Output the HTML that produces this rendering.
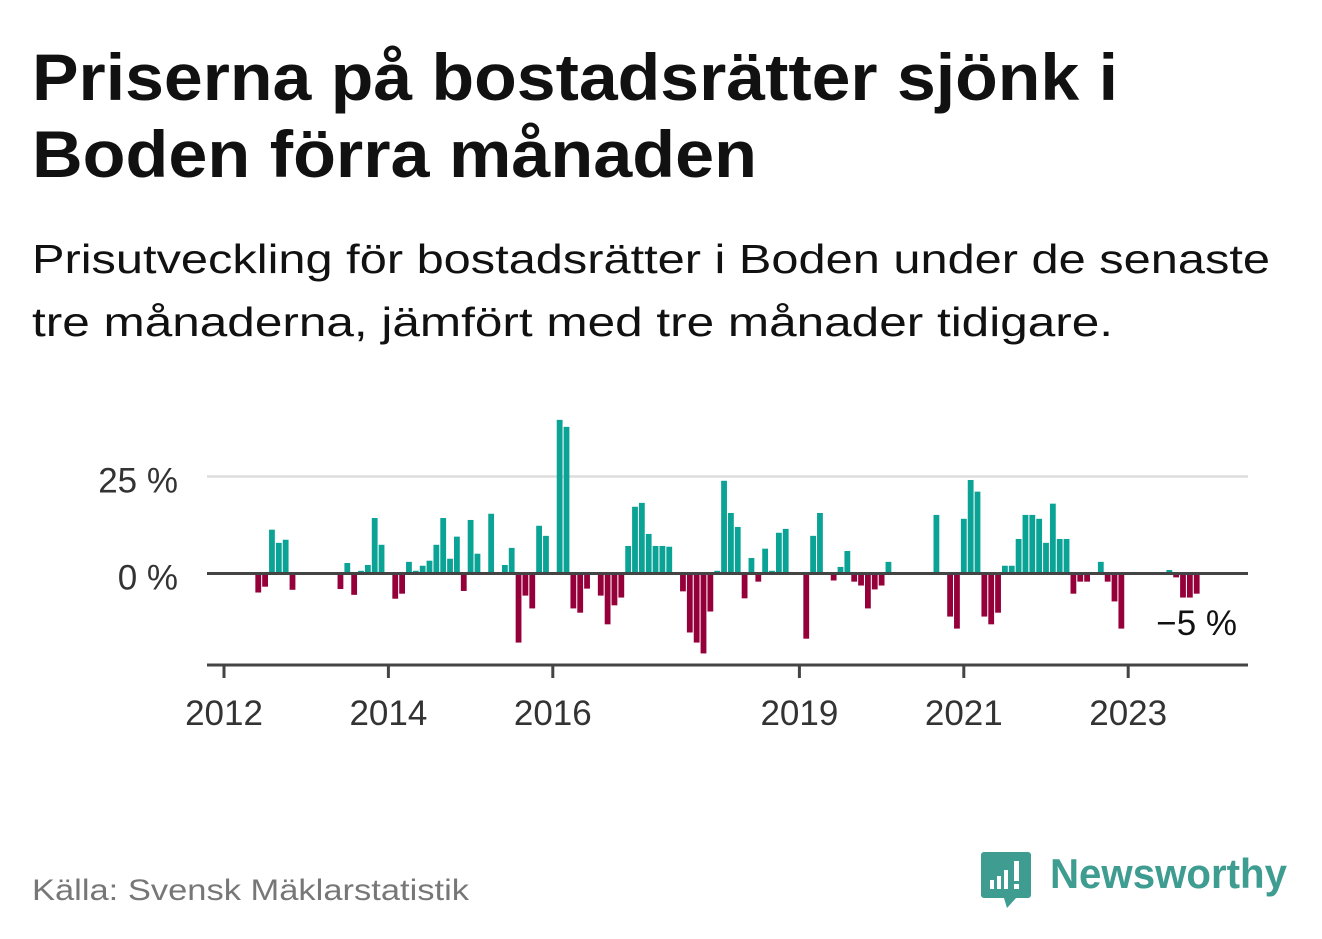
<!DOCTYPE html>
<html><head><meta charset="utf-8">
<style>
html,body{margin:0;padding:0;background:#fff;}
svg{display:block;font-family:"Liberation Sans",sans-serif;}
</style></head>
<body>
<svg id="chart" width="1322" height="939" viewBox="0 0 1322 939" xmlns="http://www.w3.org/2000/svg">
  <text x="32" y="100" font-size="66" font-weight="bold" fill="#111" textLength="1086" lengthAdjust="spacingAndGlyphs">Priserna på bostadsrätter sjönk i</text>
  <text x="32" y="177" font-size="66" font-weight="bold" fill="#111" textLength="725" lengthAdjust="spacingAndGlyphs">Boden förra månaden</text>
  <text x="32" y="273" font-size="41" fill="#111" textLength="1238" lengthAdjust="spacingAndGlyphs">Prisutveckling för bostadsrätter i Boden under de senaste</text>
  <text x="32" y="336" font-size="41" fill="#111" textLength="1081" lengthAdjust="spacingAndGlyphs">tre månaderna, jämfört med tre månader tidigare.</text>

  <g id="plot"></g>

  <text x="32" y="900" font-size="30" fill="#777" textLength="437" lengthAdjust="spacingAndGlyphs">Källa: Svensk Mäklarstatistik</text>
  <g>
    <path d="M984 852 h44 a3 3 0 0 1 3 3 v40 a3 3 0 0 1 -3 3 h-12 l-9 10 l-3 -10 h-20 a3 3 0 0 1 -3 -3 v-40 a3 3 0 0 1 3 -3z" fill="#3e9c90"/>
    <rect x="990" y="880" width="4" height="9" fill="#fff"/>
    <rect x="997" y="876" width="4" height="13" fill="#fff"/>
    <rect x="1004" y="870" width="4" height="19" fill="#fff"/>
    <rect x="1014" y="861" width="5" height="20" fill="#fff"/>
    <rect x="1014" y="884" width="5" height="5" fill="#fff"/>
    <text x="1050" y="888" font-size="42" font-weight="bold" fill="#3e9c90" textLength="237" lengthAdjust="spacingAndGlyphs">Newsworthy</text>
  </g>
</svg>
<script>
// Month index 0 = Jan 2012
const months = [5,6,7,8,9,10,17,18,19,20,21,22,23,25,26,27,28,29,30,31,32,33,34,35,36,37,39,41,42,43,44,45,46,47,49,50,51,52,53,55,56,57,58,59,60,61,62,63,64,65,67,68,69,70,71,72,73,74,75,76,77,78,79,80,81,82,85,86,87,89,90,91,92,93,94,95,96,97,104,106,107,108,109,110,111,112,113,114,115,116,117,118,119,120,121,122,123,124,125,126,128,129,130,131,138,139,140,141,142];
const values = [-4.9,-3.4,11.3,7.9,8.7,-4.2,-4.0,2.7,-5.5,0.7,2.2,14.3,7.4,-6.5,-5.2,3.0,0.7,2.0,3.3,7.4,14.3,3.8,9.5,-4.5,13.8,5.1,15.4,2.2,6.6,-17.8,-5.7,-9.0,12.3,9.7,39.6,37.8,-9.0,-10.1,-3.9,-5.7,-13.1,-8.2,-6.2,7.1,17.2,18.2,10.2,7.1,7.1,6.9,-4.6,-15.2,-17.8,-20.6,-9.8,0.7,23.9,15.6,12.0,-6.4,4.0,-2.1,6.4,0.7,10.5,11.5,-16.8,9.7,15.6,-1.8,1.7,5.8,-2.1,-3.1,-9.0,-4.1,-3.1,3.0,15.1,-11.1,-14.2,14.1,24.1,21.1,-11.1,-13.1,-10.1,2.0,2.0,8.9,15.1,15.1,14.1,7.9,18.0,8.9,8.9,-5.2,-2.1,-2.1,3.0,-2.1,-7.2,-14.2,0.9,-1.0,-6.2,-6.2,-5.2];
const yTicks = [0,25];
const yTickLabels = ["0 %","25 %"];
const xTickMonths = [0,24,48,84,108,132];
const xTickLabels = ["2012","2014","2016","2019","2021","2023"];
const lastLabel = "−5 %";

const NS="http://www.w3.org/2000/svg";
const g=document.getElementById('plot');
const x=m=>224+m*6.85;
const y=v=>573.5-v*3.88;
function mk(tag,attrs){const e=document.createElementNS(NS,tag);for(const k in attrs)e.setAttribute(k,attrs[k]);g.appendChild(e);return e;}

yTicks.forEach((t,i)=>{
  if(t!==0){
    const l=mk('line',{x1:207,x2:1248,y1:y(t),y2:y(t),stroke:'#ddd','stroke-width':2.5});
    
    
  }
  const tx=mk('text',{x:178,y:y(t)+16,'font-size':35,fill:'#333','text-anchor':'end'});
  tx.textContent=yTickLabels[i];
  
  
});

months.forEach((m,i)=>{
  const v=values[i];
  const top=Math.min(y(v),y(0)), h=Math.abs(y(v)-y(0));
  const r=mk('rect',{x:x(m)-2.9,y:top,width:5.8,height:Math.max(h,0.5),fill:v>=0?'#0aa396':'#96003a'});
  
  
});

const zl=mk('line',{x1:207,x2:1248,y1:y(0),y2:y(0),stroke:'#444','stroke-width':3});



const ax=mk('line',{x1:207,x2:1248,y1:665,y2:665,stroke:'#444','stroke-width':3});



xTickMonths.forEach((m,i)=>{
  const t=mk('line',{x1:x(m),x2:x(m),y1:665,y2:678,stroke:'#444','stroke-width':3});
  
  
  const tx=mk('text',{x:x(m),y:725,'font-size':35,fill:'#333','text-anchor':'middle'});
  tx.textContent=xTickLabels[i];
  
  
});

const ll=mk('text',{x:1237,y:635,'font-size':35,fill:'#111','text-anchor':'end'});
ll.textContent=lastLabel;


</script>
</body></html>
